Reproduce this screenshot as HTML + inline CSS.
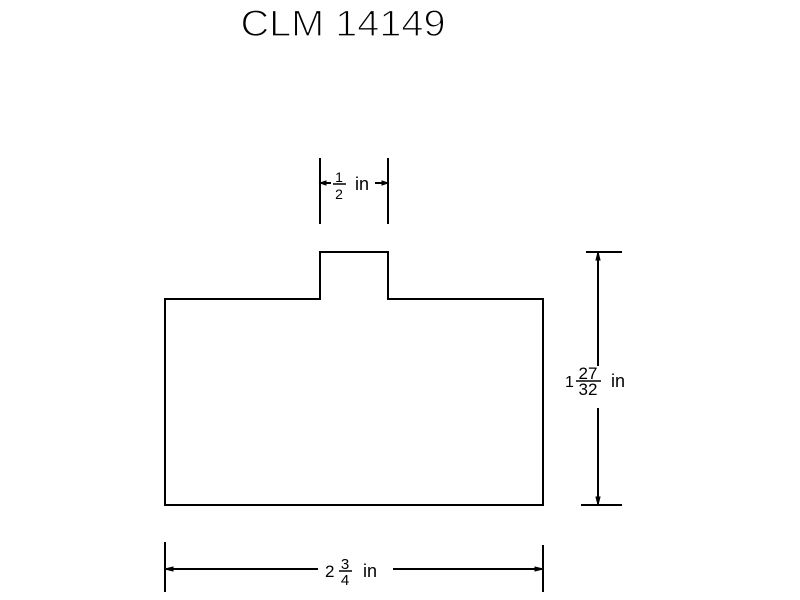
<!DOCTYPE html>
<html><head><style>html,body{margin:0;padding:0;background:#fff;width:800px;height:600px;overflow:hidden}</style></head>
<body>
<svg width="800" height="600" viewBox="0 0 800 600" xmlns="http://www.w3.org/2000/svg" font-family="Liberation Sans, sans-serif" fill="none" stroke="#000" stroke-width="2">
<text x="343" y="36" font-size="37" text-anchor="middle" fill="#000" stroke="#fff" stroke-width="1.2" textLength="205" lengthAdjust="spacingAndGlyphs">CLM 14149</text>
<path d="M165 299 H320 V252 H388 V299 H543 V505 H165 Z"/>
<!-- top dim -->
<path d="M320 158 V224 M388 158 V224 M320 183 H331 M375 183 H388"/>
<path d="M320 183 l6 -2 v4 z M388 183 l-6 -2 v4 z" fill="#000" stroke-width="1"/>
<g fill="#000" stroke="none">
<text x="339" y="182" text-anchor="middle" font-size="14">1</text>
<text x="339" y="199" text-anchor="middle" font-size="14">2</text>
<text x="355" y="190" font-size="18">in</text>
</g>
<path d="M333 184 H346" stroke-width="1.5"/>
<!-- right dim -->
<path d="M586 252 H622 M581 505 H622 M598 252 V366 M598 408 V505"/>
<path d="M598 252 l-2 8 h4 z M598 505 l-2 -8 h4 z" fill="#000" stroke-width="1"/>
<g fill="#000" stroke="none">
<text x="565" y="387" font-size="16">1</text>
<text x="588" y="379" text-anchor="middle" font-size="17">27</text>
<text x="588" y="395" text-anchor="middle" font-size="17">32</text>
<text x="611" y="387" font-size="18">in</text>
</g>
<path d="M576 381 H601" stroke-width="1.5"/>
<!-- bottom dim -->
<path d="M165 542 V592 M543 545 V592 M165 569 H318 M393 569 H543"/>
<path d="M165 569 l8 -2 v4 z M543 569 l-8 -2 v4 z" fill="#000" stroke-width="1"/>
<g fill="#000" stroke="none">
<text x="325" y="577" font-size="17">2</text>
<text x="345" y="569" text-anchor="middle" font-size="15">3</text>
<text x="345" y="585" text-anchor="middle" font-size="15">4</text>
<text x="363" y="577" font-size="18">in</text>
</g>
<path d="M339 571 H352" stroke-width="1.5"/>
</svg>
</body></html>
